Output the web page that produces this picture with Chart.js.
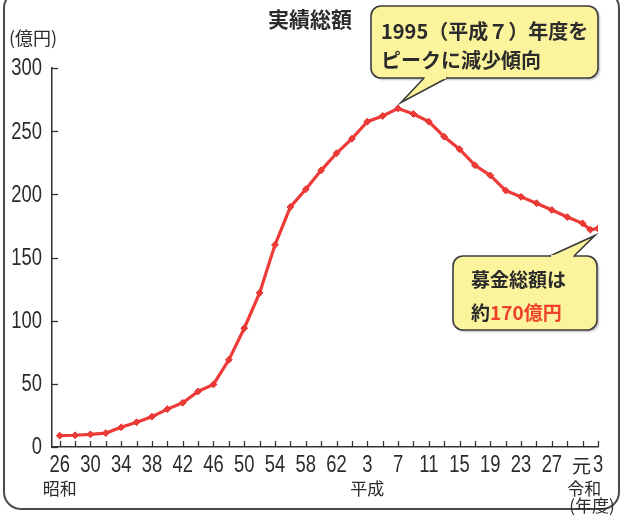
<!DOCTYPE html>
<html lang="ja">
<head>
<meta charset="utf-8">
<script src="https://cdn.jsdelivr.net/npm/chart.js@4.4.1/dist/chart.umd.min.js"></script>
<style>
  html, body { margin: 0; padding: 0; background: #fff; }
  #wrap { position: relative; width: 629px; height: 518px; overflow: hidden; }
  #frame {
    position: absolute; left: 3px; top: -10px; width: 617px; height: 520px;
    border: 2px solid #4a4a4a; border-radius: 18px; box-sizing: border-box;
  }
  canvas { position: absolute; left: 0; top: 0; }
</style>
</head>
<body>
<div id="wrap">
  <div id="frame"></div>
  <canvas id="chart" width="629" height="518"></canvas>
</div>
<script>
// =========================
// データ（年度と実績総額・億円）
// =========================
const years = [1951, 1953, 1955, 1957, 1959, 1961, 1963, 1965, 1967, 1969,
  1971, 1973, 1975, 1977, 1979, 1981, 1983, 1985, 1987, 1989,
  1991, 1993, 1995, 1997, 1999, 2001, 2003, 2005, 2007, 2009,
  2011, 2013, 2015, 2017, 2019, 2020, 2021];
const amounts = [9, 9.3, 10, 11, 15.6, 19.6, 24, 30, 35, 44,
  49.5, 69, 94, 122, 160, 190, 204, 219, 232.5, 244,
  257.5, 262, 268, 263.6, 257.5, 245.6, 235.7, 223, 215, 203,
  198, 193, 187.6, 182, 177, 172, 173];

// 目盛り（2年ごと）とラベル（4年ごと）
const tickYears = [1951, 1953, 1955, 1957, 1959, 1961, 1963, 1965, 1967, 1969,
  1971, 1973, 1975, 1977, 1979, 1981, 1983, 1985, 1987, 1989,
  1991, 1993, 1995, 1997, 1999, 2001, 2003, 2005, 2007, 2009,
  2011, 2013, 2015, 2017, 2019, 2021];
const labelYears = [1951, 1955, 1959, 1963, 1967, 1971, 1975, 1979, 1983, 1987,
  1991, 1995, 1999, 2003, 2007, 2011, 2015, 2019, 2021];
const tickLabels = ["26", "30", "34", "38", "42", "46", "50", "54", "58", "62",
  "3", "7", "11", "15", "19", "23", "27", "元", "3"];
const yTicks = [0, 50, 100, 150, 200, 250, 300];

// 元号
const eraNames = ["昭和", "平成", "令和"];
const eraYears = [1951, 1991, 2019.2];

const NUM_FONT = "'Liberation Sans', 'Noto Sans CJK JP', sans-serif";
const JP_FONT = "'Noto Sans CJK JP', sans-serif";
const LINE_RED = "#ef3b38";
const TEXT = "#2b2b2b";
const SQUEEZE = 0.8; // 目盛り数字を細長く

// =========================
// 補助描画（内向き目盛り・文字・吹き出し）
// =========================
function roundRect(ctx, x, y, w, h, r) {
  ctx.beginPath();
  ctx.moveTo(x + r, y);
  ctx.arcTo(x + w, y, x + w, y + h, r);
  ctx.arcTo(x + w, y + h, x, y + h, r);
  ctx.arcTo(x, y + h, x, y, r);
  ctx.arcTo(x, y, x + w, y, r);
  ctx.closePath();
}

function callout(ctx, box, tail, tip) {
  ctx.save();
  ctx.fillStyle = "#fbf49c";
  ctx.strokeStyle = "#3c3c3c";
  ctx.lineWidth = 1.6;
  ctx.shadowColor = "rgba(0,0,0,0.25)";
  ctx.shadowOffsetX = 2;
  ctx.shadowOffsetY = 2;
  ctx.shadowBlur = 2;
  roundRect(ctx, box.x, box.y, box.w, box.h, 10);
  ctx.fill();
  ctx.shadowColor = "transparent";
  ctx.stroke();
  // しっぽ
  ctx.beginPath();
  ctx.moveTo(tail[0], tail[1]);
  ctx.lineTo(tip[0], tip[1]);
  ctx.lineTo(tail[2], tail[3]);
  ctx.closePath();
  ctx.fill();
  ctx.beginPath();
  ctx.moveTo(tail[0], tail[1]);
  ctx.lineTo(tip[0], tip[1]);
  ctx.lineTo(tail[2], tail[3]);
  ctx.stroke();
  // 境界線の隙間を埋める
  ctx.beginPath();
  ctx.moveTo(tail[0] + 1, tail[1]);
  ctx.lineTo(tail[2] - 1, tail[3]);
  ctx.strokeStyle = "#fbf49c";
  ctx.lineWidth = 2.2;
  ctx.stroke();
  ctx.restore();
}

// 横に縮めた文字（漢字はそのまま）
function narrowText(ctx, text, x, y, align) {
  const sx = /^[0-9]+$/.test(text) ? SQUEEZE : 1;
  ctx.save();
  ctx.translate(x, y);
  ctx.scale(sx, 1);
  ctx.textAlign = align;
  ctx.fillText(text, 0, 0);
  ctx.restore();
}

const extras = {
  id: "extras",
  afterDraw(chart) {
    const ctx = chart.ctx;
    const xs = chart.scales.x, ys = chart.scales.y;
    const area = chart.chartArea;
    ctx.save();
    // 内向きの目盛り
    ctx.strokeStyle = "#333";
    ctx.lineWidth = 1.3;
    tickYears.forEach(v => {
      const px = Math.round(xs.getPixelForValue(v)) + 0.5;
      ctx.beginPath();
      ctx.moveTo(px, area.bottom);
      ctx.lineTo(px, area.bottom - 6);
      ctx.stroke();
    });
    yTicks.forEach(v => {
      const py = Math.round(ys.getPixelForValue(v)) + 0.5;
      ctx.beginPath();
      ctx.moveTo(area.left, py);
      ctx.lineTo(area.left + 6, py);
      ctx.stroke();
    });

    // 目盛りラベル
    ctx.fillStyle = TEXT;
    ctx.textBaseline = "middle";
    labelYears.forEach((v, i) => {
      const isNum = /^[0-9]+$/.test(tickLabels[i]);
      ctx.font = (isNum ? "23px " : "19px ") + (isNum ? NUM_FONT : JP_FONT);
      narrowText(ctx, tickLabels[i], xs.getPixelForValue(v) - (isNum ? 0 : 1), area.bottom + 19, "center");
    });
    ctx.font = "23px " + NUM_FONT;
    yTicks.forEach(v => {
      narrowText(ctx, String(v), area.left - 10, ys.getPixelForValue(v) + 1, "right");
    });

    // 元号
    ctx.font = "17px " + JP_FONT;
    ctx.textAlign = "center";
    eraNames.forEach((n, i) => {
      ctx.fillText(n, xs.getPixelForValue(eraYears[i]), 489);
    });
    ctx.fillText("(年度)", 592, 506);
    // 単位・タイトル
    ctx.textAlign = "left";
    ctx.font = "18px " + JP_FONT;
    ctx.fillText("(億円)", 9, 38);
    ctx.font = "bold 21px " + JP_FONT;
    ctx.fillText("実績総額", 268, 19);

    // 吹き出し1（ピーク）
    const peakI = amounts.indexOf(Math.max(...amounts));
    const px = xs.getPixelForValue(years[peakI]);
    const py = ys.getPixelForValue(amounts[peakI]);
    callout(ctx, { x: 371, y: 6, w: 227, h: 72 }, [424, 78, 447, 78], [px + 3, py - 6]);
    ctx.fillStyle = TEXT;
    ctx.font = "bold 20px " + JP_FONT;
    ctx.fillText("1995（平成７）年度を", 381, 31);
    ctx.fillText("ピークに減少傾向", 381, 60);

    // 吹き出し2（最新）
    const last = years.length - 1;
    const lx = xs.getPixelForValue(years[last]);
    const ly = ys.getPixelForValue(amounts[last]);
    callout(ctx, { x: 453, y: 256, w: 144, h: 74 }, [550, 256, 574, 256], [lx - 3, ly + 7]);
    ctx.fillStyle = TEXT;
    ctx.font = "bold 19px " + JP_FONT;
    ctx.fillText("募金総額は", 471, 280);
    ctx.fillText("約", 471, 313);
    const w1 = ctx.measureText("約").width;
    ctx.fillStyle = "#f0412b";
    ctx.fillText("170億円", 471 + w1, 313);
    ctx.restore();
  }
};

// =========================
// グラフ
// =========================
new Chart(document.getElementById("chart"), {
  type: "line",
  data: {
    datasets: [{
      data: years.map((y, i) => ({ x: y, y: amounts[i] })),
      borderColor: LINE_RED,
      backgroundColor: LINE_RED,
      borderWidth: 3.2,
      pointStyle: "rectRot",
      pointRadius: 3.4,
      pointBorderWidth: 1,
      pointBorderColor: "#e0302c",
      tension: 0
    }]
  },
  options: {
    responsive: false,
    animation: false,
    layout: { padding: { top: 68, right: 31, bottom: 31, left: 0 } },
    plugins: { legend: { display: false }, tooltip: { enabled: false } },
    scales: {
      x: {
        type: "linear",
        min: 1950,
        max: 2021,
        afterBuildTicks: s => { s.ticks = tickYears.map(v => ({ value: v })); },
        afterFit: s => { s.height = 40; },
        grid: { display: true, drawOnChartArea: false, drawTicks: false },
        border: { display: true, color: "#333", width: 1.5 },
        ticks: { display: false }
      },
      y: {
        min: 0,
        max: 300,
        afterBuildTicks: s => { s.ticks = yTicks.map(v => ({ value: v })); },
        afterFit: s => { s.width = 52; },
        grid: { display: true, drawOnChartArea: false, drawTicks: false },
        border: { display: true, color: "#333", width: 1.5 },
        ticks: { display: false }
      }
    }
  },
  plugins: [extras]
});
</script>
</body>
</html>
